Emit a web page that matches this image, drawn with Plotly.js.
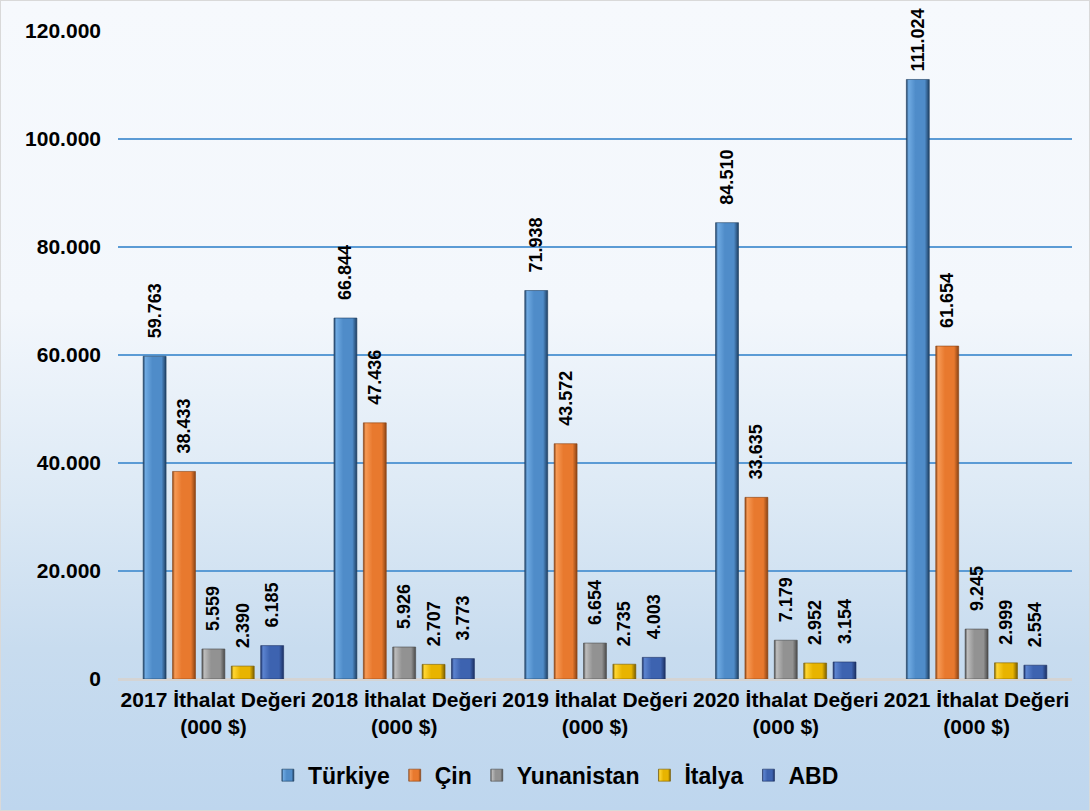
<!DOCTYPE html>
<html><head><meta charset="utf-8">
<script src="https://cdn.plot.ly/plotly-3.0.1.min.js"></script>
<style>
html,body{margin:0;padding:0;}
#wrap{width:1088px;height:809px;border:1px solid #D9D9D9;background:linear-gradient(to bottom,#F6F9FD 0%,#F3F7FC 38%,#DCE9F5 62%,#C8DCEF 80%,#BED6EE 100%);}
#chart{width:1088px;height:809px;}
</style></head>
<body><div id="wrap"><div id="chart"></div></div>
<script>
const categories = ["2017 İthalat Değeri<br>(000 $)","2018 İthalat Değeri<br>(000 $)","2019 İthalat Değeri<br>(000 $)","2020 İthalat Değeri<br>(000 $)","2021 İthalat Değeri<br>(000 $)"];
const seriesNames = ["Türkiye","Çin","Yunanistan","İtalya","ABD"];
const turkiye = [59763, 66844, 71938, 84510, 111024];
const cin = [38433, 47436, 43572, 33635, 61654];
const yunanistan = [5559, 5926, 6654, 7179, 9245];
const italya = [2390, 2707, 2735, 2952, 2999];
const abd = [6185, 3773, 4003, 3154, 2554];
const seriesValues = [turkiye, cin, yunanistan, italya, abd];
const colors = ["#4F8CC9","#E8792E","#929292","#E8B400","#3D63B0"];
const lights = ["#6FAAE2","#F79A55","#BDBDBD","#FFD633","#5C84D0"];
const darks = ["#1F3F62","#8A4314","#4A4A4A","#7A5E00","#1C3063"];

const font = "Liberation Sans, Arial, sans-serif";
const traces = seriesNames.map((n,i)=>({
  type:'bar', name:n, x:categories, y:seriesValues[i],
  marker:{color:colors[i], line:{color:darks[i], width:0.6}},
  text: seriesValues[i].map(v => v > 100000 ? '\u00a0' : '\u00a0\u00a0\u00a0'),
  texttemplate:'%{text}%{y:,d}', textposition:'outside', textangle:-90,
  constraintext:'none', cliponaxis:false,
  textfont:{family:font, size:18, color:'#000', weight:'bold'},
  hoverinfo:'skip'
}));
const layout = {
  width:1088, height:809,
  paper_bgcolor:'rgba(0,0,0,0)', plot_bgcolor:'rgba(0,0,0,0)',
  separators:',.',
  margin:{l:117, r:17, t:30, b:131, autoexpand:false},
  barmode:'group', bargap:0.23, bargroupgap:0.22,
  font:{family:font, color:'#000'},
  xaxis:{tickfont:{family:font,size:21,weight:'bold',color:'#000'}, showline:false, ticks:'', zeroline:false, automargin:false, ticklabelstandoff:6},
  yaxis:{range:[0,120000], dtick:20000, tickformat:',d', gridcolor:'#5B9BD5', gridwidth:2,
         zeroline:true, zerolinecolor:'#D4D4D4', zerolinewidth:3, automargin:false,
         tickfont:{family:font,size:21,weight:'bold',color:'#000'}, ticklabelstandoff:16},
  showlegend:true,
  legend:{orientation:'h', x:0.51, xanchor:'center', xref:'container', y:0.043, yanchor:'middle', yref:'container',
          font:{family:font,size:23,weight:'bold',color:'#000'}, itemwidth:30, traceorder:'normal'}
};
Plotly.newPlot('chart', traces, layout, {displayModeBar:false, staticPlot:true}).then(gd => {
  const svg = gd.querySelector('svg.main-svg');
  const ns = 'http://www.w3.org/2000/svg';
  let defs = svg.querySelector('defs');
  colors.forEach((c,i) => {
    const g = document.createElementNS(ns,'linearGradient');
    g.setAttribute('id','bargrad'+i);
    g.setAttribute('x1','0'); g.setAttribute('x2','1'); g.setAttribute('y1','0'); g.setAttribute('y2','0');
    [[0,darks[i]],[0.1,lights[i]],[0.4,c],[0.8,c],[1,darks[i]]].forEach(([o,col]) => {
      const s = document.createElementNS(ns,'stop');
      s.setAttribute('offset', o); s.setAttribute('stop-color', col);
      g.appendChild(s);
    });
    defs.appendChild(g);
  });
  gd.querySelectorAll('.barlayer .trace.bars').forEach((t,i) => {
    t.querySelectorAll('path').forEach(p => { p.style.fill = 'url(#bargrad'+i+')'; });
  });
  gd.querySelectorAll('.legend .traces').forEach((t,i) => {
    t.querySelectorAll('.legendpoints path').forEach(p => { p.style.fill = 'url(#bargrad'+i+')'; });
  });
});
</script></body></html>
